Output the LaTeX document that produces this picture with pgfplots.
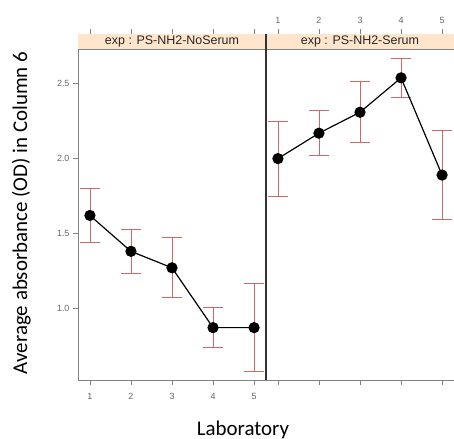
\documentclass[border=0pt]{standalone}
\usepackage{pgfplots}
\pgfplotsset{compat=1.18}
\usepackage{fontspec}
\setmainfont{Liberation Sans}
\newfontfamily\calibri{Carlito}
\definecolor{errc}{RGB}{205,105,105}
\definecolor{stripc}{RGB}{255,229,204}
\definecolor{framec}{RGB}{130,130,130}

\pgfplotsset{
  panel/.style={
    scale only axis, width=188bp, height=346bp,
    xmin=0.71, xmax=5.29, ymin=0.52, ymax=2.833,
    axis line style={framec, line width=0.8pt},
    xtick={1,2,3,4,5}, ytick={1,1.5,2,2.5},
    tick style={framec, line width=0.7pt},
    tick align=outside, major tick length=5bp,
    ticklabel style={font=\fontsize{9}{10}\selectfont, text=black!60},
    /pgf/number format/assume math mode=true,
    yticklabel style={/pgf/number format/fixed, /pgf/number format/precision=1,
      /pgf/number format/fixed zerofill},
    clip=false, unbounded coords=jump,
  },
  % vertical error bars
  errs/.style={no markers, draw opacity=0, line width=0.8pt,
    error bars/.cd, y dir=both, y explicit, error mark=none,
    error bar style={draw opacity=1, color=errc, line width=0.8pt}},
  % horizontal caps, one segment each
  caps/.style={errc, no markers, line width=0.9pt},
  dat/.style={black, line width=1.2pt, mark=*, mark size=5bp,
    mark options={fill=black}},
}

\begin{document}
\begin{tikzpicture}
\useasboundingbox (0bp,0bp) rectangle (454bp,439bp);

% left panel
\begin{axis}[panel, at={(78bp,59bp)}, anchor=south west,
  xtick pos=both, xticklabel pos=lower,
  xticklabel style={yshift=-5bp},
  ytick pos=left]
  \fill[stripc] (axis cs:0.71,2.727) rectangle (axis cs:5.29,2.833);
  \draw[framec, line width=0.8pt] (axis cs:0.71,2.727) -- (axis cs:5.29,2.727);
  \node[font=\fontsize{12.5}{13}\selectfont, text=black!85] at (axis cs:3,2.78) {exp : PS-NH2-NoSerum};
  \addplot[errs] coordinates {
    (1,1.62) +- (0,0.18)
    (2,1.38) +- (0,0.145)
    (3,1.27) +- (0,0.20)
    (4,0.87) +- (0,0.135)
    (5,0.87) +- (0,0.295)
  };
  \addplot[caps] coordinates {
    (0.76,1.80) (1.24,1.80) (nan,nan) (0.76,1.44) (1.24,1.44) (nan,nan)
    (1.76,1.525) (2.24,1.525) (nan,nan) (1.76,1.235) (2.24,1.235) (nan,nan)
    (2.76,1.47) (3.24,1.47) (nan,nan) (2.76,1.07) (3.24,1.07) (nan,nan)
    (3.76,1.005) (4.24,1.005) (nan,nan) (3.76,0.735) (4.24,0.735) (nan,nan)
    (4.76,1.165) (5.24,1.165) (nan,nan) (4.76,0.575) (5.24,0.575)
  };
  \addplot[dat] coordinates {(1,1.62) (2,1.38) (3,1.27) (4,0.87) (5,0.87)};
\end{axis}

% right panel
\begin{axis}[panel, at={(266bp,59bp)}, anchor=south west,
  xtick pos=both, xticklabel pos=upper,
  xticklabel style={yshift=2bp},
  ytick=\empty]
  \fill[stripc] (axis cs:0.71,2.727) rectangle (axis cs:5.29,2.833);
  \draw[framec, line width=0.8pt] (axis cs:0.71,2.727) -- (axis cs:5.29,2.727);
  \node[font=\fontsize{12.5}{13}\selectfont, text=black!85] at (axis cs:3,2.78) {exp : PS-NH2-Serum};
  \addplot[errs] coordinates {
    (1,2.00) +- (0,0.25)
    (2,2.17) +- (0,0.15)
    (3,2.31) +- (0,0.205)
    (4,2.54) +- (0,0.13)
    (5,1.89) +- (0,0.295)
  };
  \addplot[caps] coordinates {
    (0.76,2.25) (1.24,2.25) (nan,nan) (0.76,1.75) (1.24,1.75) (nan,nan)
    (1.76,2.32) (2.24,2.32) (nan,nan) (1.76,2.02) (2.24,2.02) (nan,nan)
    (2.76,2.515) (3.24,2.515) (nan,nan) (2.76,2.105) (3.24,2.105) (nan,nan)
    (3.76,2.67) (4.24,2.67) (nan,nan) (3.76,2.41) (4.24,2.41) (nan,nan)
    (4.76,2.185) (5.24,2.185) (nan,nan) (4.76,1.595) (5.24,1.595)
  };
  \addplot[dat] coordinates {(1,2.00) (2,2.17) (3,2.31) (4,2.54) (5,1.89)};
  \draw[black!80, line width=1.2pt] (axis cs:0.71,0.52) -- (axis cs:0.71,2.833);
\end{axis}

\node[font=\calibri\fontsize{21}{24}\selectfont, anchor=base] at (243bp,4bp) {Laboratory};
\node[font=\calibri\fontsize{21}{24}\selectfont, rotate=90, anchor=base] at (27bp,226bp) {Average absorbance (OD) in Column 6};
\end{tikzpicture}
\end{document}
